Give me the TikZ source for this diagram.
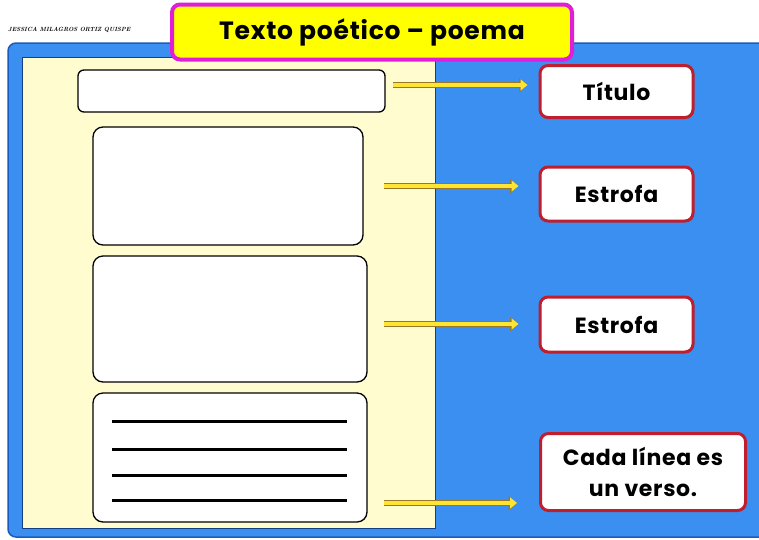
\documentclass[tikz,border=0pt]{standalone}
\usepackage{fontspec}
\newfontfamily\pop{Poppins}[LetterSpace=3]
\usetikzlibrary{arrows.meta}
\definecolor{bgblue}{RGB}{58,143,240}
\definecolor{bgblueb}{RGB}{30,90,190}
\definecolor{paper}{RGB}{255,252,208}
\definecolor{magen}{RGB}{225,30,215}
\definecolor{ttlyel}{RGB}{255,255,0}
\definecolor{redb}{RGB}{190,30,45}
\definecolor{arrf}{RGB}{255,228,50}
\definecolor{arrd}{RGB}{150,120,40}
\tikzset{
  blank/.style={draw=black, line width=1.3pt, fill=white, rounded corners=10pt, inner sep=0pt},
  label box/.style={draw=redb, line width=3pt, fill=white, rounded corners=8pt, inner sep=0pt, align=center, font=\pop\bfseries\fontsize{22}{31}\selectfont},
  arr/.style={line width=4.5pt, draw=arrf, -{Triangle[length=7pt,width=11pt]},
     preaction={draw=arrd, line width=6.5pt, -{Triangle[length=8.5pt,width=14pt]}}},
  verse/.style={line width=3pt, black}
}
\begin{document}
\begin{tikzpicture}[x=1pt,y=-1pt]
\useasboundingbox (0,0) rectangle (759,539);
\fill[white] (0,0) rectangle (759,539);
% blue panel
\draw[fill=bgblue, draw=bgblueb, line width=1.5pt, rounded corners=8pt] (8,43) rectangle (790,537);
% paper
\draw[fill=paper, draw=bgblueb!70!black, line width=0.8pt] (22,57) rectangle (435,528);
% title
\node[draw=magen, line width=4pt, fill=ttlyel, rounded corners=8pt, minimum width=400pt, minimum height=55pt, inner sep=0pt, font=\pop\bfseries\fontsize{25}{30}\selectfont] (title) at (372,32) {Texto poético – poema};
\node[font=\itshape\bfseries\fontsize{6}{7}\selectfont, anchor=west, inner sep=0pt] (author) at (8,30) {JESSICA MILAGROS ORTIZ QUISPE};
% blanks
\node[blank, rounded corners=6pt, minimum width=307pt, minimum height=42pt] (t1) at (231.5,91) {};
\node[blank, minimum width=270pt, minimum height=118pt] (e1) at (228,186) {};
\node[blank, minimum width=274pt, minimum height=126pt] (e2) at (230,319) {};
\node[blank, minimum width=274pt, minimum height=129pt] (v) at (230,457.5) {};
\foreach \yy in {421,449,475,500} \draw[verse] (112,\yy) -- (347,\yy);
% labels
\node[label box, minimum width=153pt, minimum height=52pt] (T) at (616.5,91.5) {Título};
\node[label box, minimum width=153pt, minimum height=54pt] (E1) at (616.5,194) {Estrofa};
\node[label box, minimum width=153pt, minimum height=55pt] (E2) at (616.5,324.5) {Estrofa};
\node[label box, minimum width=205pt, minimum height=77pt] (C) at (643,472) {Cada línea es\\un verso.};
% arrows
\draw[arr] ([xshift=7pt,yshift=6pt]t1.east) -- ([xshift=-11pt,yshift=6.5pt]T.west);
\draw[arr] ([xshift=20pt]e1.east) -- ([xshift=-20pt,yshift=8pt]E1.west);
\draw[arr] ([xshift=16pt,yshift=-5pt]e2.east) -- ([xshift=-20pt,yshift=0.5pt]E2.west);
\draw[arr] ([xshift=16pt,yshift=-45.5pt]v.east) -- ([xshift=-22pt,yshift=-31pt]C.west);
\end{tikzpicture}
\end{document}
